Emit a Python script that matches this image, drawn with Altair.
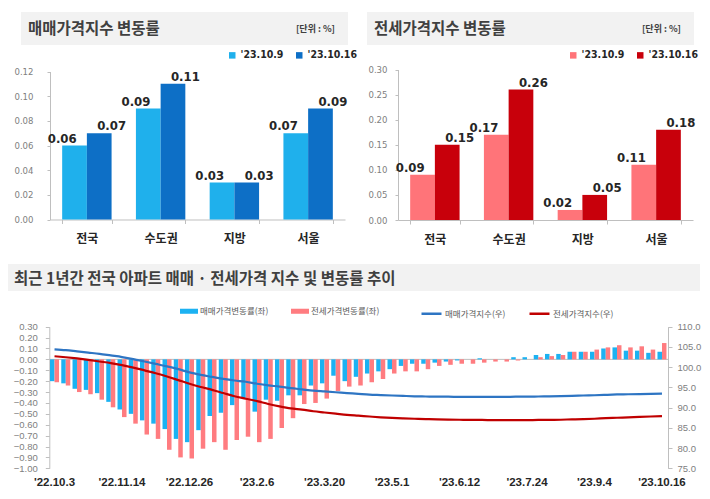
import altair as alt
import pandas as pd

# ---------------- data ----------------
REGIONS = ["전국", "수도권", "지방", "서울"]
PERIODS = ["'23.10.9", "'23.10.16"]
SALE_1009 = [0.06, 0.09, 0.03, 0.07]
SALE_1016 = [0.07, 0.11, 0.03, 0.09]
JEONSE_1009 = [0.09, 0.17, 0.02, 0.11]
JEONSE_1016 = [0.15, 0.26, 0.05, 0.18]

WEEKS = [f"'{d:%y}.{d.month}.{d.day}" for d in pd.date_range("2022-10-03", "2023-10-16", freq="7D")]
WEEK_TICKS = ["'22.10.3", "'22.11.14", "'22.12.26", "'23.2.6", "'23.3.20",
              "'23.5.1", "'23.6.12", "'23.7.24", "'23.9.4", "'23.10.16"]

SALE_CHG = [-0.20, -0.22, -0.27, -0.28, -0.31, -0.39, -0.46, -0.50, -0.56, -0.59,
            -0.64, -0.73, -0.76, -0.65, -0.52, -0.49, -0.42, -0.36, -0.48, -0.37,
            -0.38, -0.33, -0.33, -0.24, -0.22, -0.15, -0.20, -0.16, -0.13, -0.11,
            -0.09, -0.06, -0.04, -0.04, -0.03, -0.02, -0.01, 0.00, 0.01, 0.00,
            0.00, 0.02, 0.02, 0.04, 0.05, 0.05, 0.07, 0.07, 0.07, 0.10,
            0.11, 0.08, 0.08, 0.06, 0.07]
JEONSE_CHG = [-0.21, -0.24, -0.30, -0.32, -0.37, -0.44, -0.53, -0.59, -0.69, -0.73,
              -0.83, -0.90, -0.91, -0.82, -0.76, -0.83, -0.74, -0.71, -0.76, -0.73,
              -0.63, -0.54, -0.41, -0.40, -0.36, -0.29, -0.25, -0.24, -0.21, -0.18,
              -0.13, -0.11, -0.11, -0.09, -0.06, -0.05, -0.04, -0.04, -0.03, -0.02,
              -0.02, -0.01, 0.00, 0.02, 0.03, 0.04, 0.07, 0.07, 0.09, 0.11,
              0.13, 0.11, 0.12, 0.09, 0.15]
SALE_IDX = [104.4, 104.2, 103.9, 103.6, 103.3, 102.9, 102.5, 102.0, 101.4, 100.8,
            100.2, 99.5, 98.7, 98.1, 97.6, 97.1, 96.7, 96.4, 95.9, 95.5,
            95.2, 94.8, 94.5, 94.2, 94.0, 93.8, 93.6, 93.4, 93.2, 93.1,
            93.0, 92.9, 92.8, 92.75, 92.7, 92.7, 92.65, 92.65, 92.65, 92.65,
            92.65, 92.7, 92.7, 92.75, 92.8, 92.85, 92.9, 93.0, 93.05, 93.15,
            93.25, 93.3, 93.35, 93.4, 93.45]
JEONSE_IDX = [102.7, 102.45, 102.15, 101.8, 101.4, 101.0, 100.5, 99.9, 99.2, 98.5,
              97.7, 96.8, 95.9, 95.1, 94.4, 93.6, 92.8, 92.2, 91.6, 90.9,
              90.3, 89.8, 89.5, 89.1, 88.8, 88.5, 88.2, 88.0, 87.8, 87.6,
              87.45, 87.35, 87.25, 87.15, 87.1, 87.05, 87.0, 86.95, 86.95, 86.9,
              86.9, 86.9, 86.9, 86.95, 86.95, 87.0, 87.1, 87.15, 87.25, 87.4,
              87.5, 87.6, 87.7, 87.8, 87.9]

BAR_SERIES = ["매매가격변동률(좌)", "전세가격변동률(좌)"]
LINE_SERIES = ["매매가격지수(우)", "전세가격지수(우)"]

TL_TICKS = [0.0, 0.02, 0.04, 0.06, 0.08, 0.10, 0.12]
TR_TICKS = [0.0, 0.05, 0.10, 0.15, 0.20, 0.25, 0.30]
BL_TICKS = [-1.0, -0.9, -0.8, -0.7, -0.6, -0.5, -0.4, -0.3, -0.2, -0.1, 0.0, 0.1, 0.2, 0.3]
BR_TICKS = [75, 80, 85, 90, 95, 100, 105, 110]

TITLE_TL = "매매가격지수 변동률"
TITLE_TR = "전세가격지수 변동률"
TITLE_B = "최근 1년간 전국 아파트 매매 · 전세가격 지수 및 변동률 추이"
UNIT = "[단위 : %]"

# ---------------- style ----------------
W, H = 694, 483
KR = "Noto Sans CJK KR"
NARROW = "Liberation Sans Narrow, DejaVu Sans Condensed, Liberation Sans, sans-serif"
ARIAL = "Liberation Sans, sans-serif"
AXC = "#BFBFBF"
BOX = "#F2F2F2"


def top_df(prev, cur):
    df = pd.DataFrame({
        "region": REGIONS * 2,
        "period": [PERIODS[0]] * 4 + [PERIODS[1]] * 4,
        "value": prev + cur,
    })
    df["label"] = df["value"].map(lambda v: f"{v:.2f}")
    return df


def top_panel(df, ydom, yticks, yrng, xrng, colors, leg_x, lab_pad):
    bw = (xrng[1] - xrng[0]) / 4 * 0.67
    xsc = alt.Scale(domain=REGIONS, range=xrng, paddingInner=0.33, paddingOuter=0.165)
    xosc = alt.Scale(domain=PERIODS, range=[0, bw], paddingInner=0, paddingOuter=0)
    ysc = alt.Scale(domain=ydom, range=yrng, nice=False, zero=False)
    bars = alt.Chart(df).mark_bar().encode(
        x=alt.X("region:N", scale=xsc, sort=REGIONS, axis=alt.Axis(
            orient="bottom", offset=yrng[0] - H, title=None, labelAngle=0, labelFont=KR,
            labelFontSize=12, labelFontWeight="bold", labelColor="#262626", labelPadding=10,
            domainColor=AXC, tickColor=AXC, tickSize=4, tickBand="extent", grid=False)),
        xOffset=alt.XOffset("period:N", scale=xosc, sort=PERIODS),
        y=alt.Y("value:Q", scale=ysc, axis=alt.Axis(
            orient="left", offset=-xrng[0], values=yticks, format=".2f", title=None, grid=False,
            domainColor=AXC, tickColor=AXC, tickSize=3, labelPadding=lab_pad, labelFont=NARROW,
            labelFontSize=9.5, labelColor="#808080")),
        color=alt.Color("period:N", scale=alt.Scale(domain=PERIODS, range=colors), legend=alt.Legend(
            orient="none", legendX=leg_x, legendY=42, direction="horizontal", title=None,
            symbolType="square", symbolSize=42, symbolStrokeWidth=0, labelFont=NARROW,
            labelFontSize=10.5, labelFontWeight="bold", labelColor="#262626", columnPadding=10,
            labelOffset=3, padding=0, labelLimit=200)),
    )
    text = alt.Chart(df).mark_text(baseline="alphabetic", dy=-3, font=NARROW, fontSize=13,
                                   fontWeight="bold", color="#262626").encode(
        x=alt.X("region:N", scale=xsc, sort=REGIONS, axis=None),
        xOffset=alt.XOffset("period:N", scale=xosc, sort=PERIODS),
        y=alt.Y("value:Q", scale=ysc, axis=None),
        text="label:N",
    )
    return [bars, text]


def box(x1, x2, y1, y2):
    return alt.Chart(pd.DataFrame({"k": [0]})).mark_rect(color=BOX).encode(
        x=alt.value(x1), x2=alt.value(x2), y=alt.value(y1), y2=alt.value(y2))


def label(txt, x, y, size, align="left", weight="bold", color="#404040", font=KR):
    return alt.Chart(pd.DataFrame({"t": [txt]})).mark_text(
        align=align, baseline="middle", fontSize=size, fontWeight=weight, color=color, font=font
    ).encode(x=alt.value(x), y=alt.value(y), text="t:N")


layers = []
# title boxes
layers += [box(13, 340, 4, 37), box(359, 686, 4, 37), box(-1, 692, 256, 283)]
layers += [label(TITLE_TL, 20, 21, 15.5), label(UNIT, 327, 21, 9, align="right"),
           label(TITLE_TR, 366, 21, 15.5), label(UNIT, 673, 21, 9, align="right"),
           label(TITLE_B, 6, 271, 15.5)]

layers += top_panel(top_df(SALE_1009, SALE_1016), [0, 0.12], TL_TICKS, [211.5, 63.5], [42, 337],
                    ["#1FB0EC", "#0D6FC6"], 219, 14)
layers += top_panel(top_df(JEONSE_1009, JEONSE_1016), [0, 0.30], TR_TICKS, [212, 61.5], [390, 685],
                    ["#FF7479", "#C8000B"], 560, 8)

# bottom chart
bdf = pd.DataFrame({
    "week": WEEKS * 2,
    "series": [BAR_SERIES[0]] * len(WEEKS) + [BAR_SERIES[1]] * len(WEEKS),
    "value": SALE_CHG + JEONSE_CHG,
})
ldf = pd.DataFrame({
    "week": WEEKS * 2,
    "series": [LINE_SERIES[0]] * len(WEEKS) + [LINE_SERIES[1]] * len(WEEKS),
    "value": SALE_IDX + JEONSE_IDX,
})
BX = [40.9, 659.6]
BY = [460.3, 318.7]
bxs = alt.Scale(domain=WEEKS, range=BX, paddingInner=0.2, paddingOuter=0.1)

zero = alt.Chart(pd.DataFrame({"k": [0]})).mark_rule(color=AXC, strokeWidth=1).encode(
    y=alt.Y(datum=0, scale=alt.Scale(domain=[-1.0, 0.3], range=BY, nice=False, zero=False), axis=None),
    x=alt.value(41.3), x2=alt.value(660))

bbars = alt.Chart(bdf).mark_bar().encode(
    x=alt.X("week:N", scale=bxs, sort=WEEKS, axis=alt.Axis(
        orient="bottom", offset=BY[0] - H, values=WEEK_TICKS, title=None, labelAngle=0,
        domain=False, ticks=False, labelPadding=8, labelFont=ARIAL, labelFontSize=11.5,
        labelFontWeight="bold", labelColor="#262626", grid=False, labelOverlap=False)),
    xOffset=alt.XOffset("series:N", sort=BAR_SERIES,
                        scale=alt.Scale(domain=BAR_SERIES, range=[0, 9.0], paddingInner=0, paddingOuter=0)),
    y=alt.Y("value:Q", scale=alt.Scale(domain=[-1.0, 0.3], range=BY, nice=False, zero=False), axis=alt.Axis(
        orient="left", offset=-41.3, values=BL_TICKS, format=".2f", title=None, grid=False,
        domainColor=AXC, tickColor=AXC, tickSize=4, labelPadding=8, labelFont=ARIAL,
        labelFontSize=9.5, labelColor="#808080")),
    color=alt.Color("series:N", scale=alt.Scale(domain=BAR_SERIES, range=["#1CB2F2", "#FF7C80"]),
                    legend=alt.Legend(
                        orient="none", legendX=172, legendY=294, direction="horizontal", title=None,
                        symbolType="M-1,-0.28H1V0.28H-1Z", symbolSize=324, symbolStrokeWidth=0,
                        labelFont=KR, labelFontSize=8.5, labelColor="#595959", columnPadding=22,
                        labelOffset=2, padding=0)),
)

blines = alt.Chart(ldf).mark_line(strokeWidth=2.2, interpolate="monotone").encode(
    x=alt.X("week:N", scale=bxs, sort=WEEKS, axis=None),
    y=alt.Y("value:Q", scale=alt.Scale(domain=[75, 110], range=BY, nice=False, zero=False), axis=alt.Axis(
        orient="right", offset=660 - W, values=BR_TICKS, format=".1f", title=None, grid=False,
        domainColor=AXC, tickColor=AXC, tickSize=4, labelPadding=5, labelFont=ARIAL,
        labelFontSize=9.5, labelColor="#808080")),
    color=alt.Color("series:N", scale=alt.Scale(domain=LINE_SERIES, range=["#2E75C3", "#C00000"]),
                    legend=alt.Legend(
                        orient="none", legendX=412, legendY=294, direction="horizontal", title=None,
                        symbolType="stroke", symbolSize=400, symbolStrokeWidth=2.5,
                        labelFont=KR, labelFontSize=8.5, labelColor="#595959", columnPadding=18,
                        labelOffset=2, padding=0)),
)

layers += [zero, bbars, blines]

chart = alt.layer(*layers).resolve_scale(
    x="independent", y="independent", xOffset="independent", color="independent"
).resolve_axis(x="independent", y="independent").resolve_legend(color="independent").properties(
    width=W, height=H, autosize=alt.AutoSizeParams(type="none"), padding=0, background="white"
).configure_view(stroke=None)

chart.save("out.html", embed_options={"renderer": "svg", "actions": False})
